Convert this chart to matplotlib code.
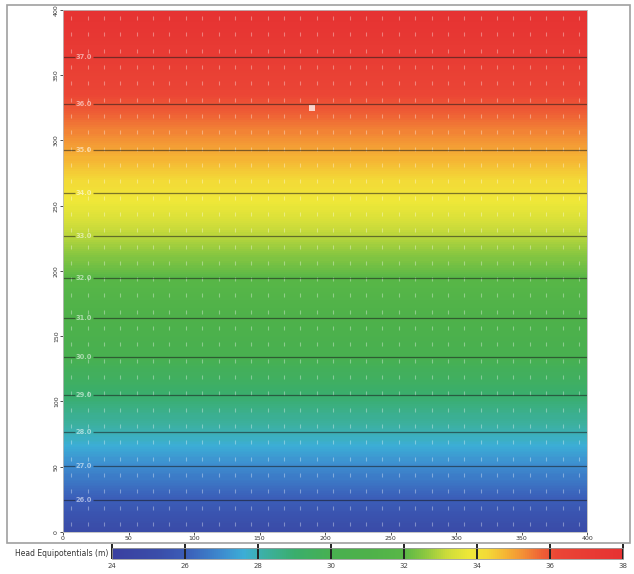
import numpy as np
import matplotlib.pyplot as plt
from matplotlib.colors import LinearSegmentedColormap, Normalize
from matplotlib.cm import ScalarMappable
from matplotlib.patches import Rectangle

# head profile (elevation in model units, head in m)
profile_y = [0, 24.5, 50.6, 76.6, 105.0, 134.1, 164.0, 194.6, 226.8, 259.8, 292.7, 328.0, 364.0, 400]
profile_head = [25.1, 26, 27, 28, 29, 30, 31, 32, 33, 34, 35, 36, 37, 38]
contour_levels = [26, 27, 28, 29, 30, 31, 32, 33, 34, 35, 36, 37]
x_extent = [0, 400]
x_ticks = [0, 50, 100, 150, 200, 250, 300, 350, 400]
y_ticks = [0, 50, 100, 150, 200, 250, 300, 350, 400]
cbar_ticks = [24, 26, 28, 30, 32, 34, 36, 38]
well_x, well_y = [190], [325]

# colour ramp of the head scale (head value, colour)
ramp = [(24, "#3a40a0"), (25.3, "#3a4eaa"), (26, "#3b5db8"), (27, "#3d8ccf"),
        (27.6, "#3caed6"), (28.1, "#3cb0a6"), (29, "#3aae6c"), (30, "#48b050"),
        (31, "#4eb14a"), (32, "#58b747"), (32.6, "#8cc840"), (33.2, "#cddc3a"),
        (33.8, "#efe838"), (34.3, "#f3da37"), (34.8, "#f5b534"), (35.3, "#f38e35"),
        (35.8, "#ee6035"), (36.2, "#eb4635"), (37, "#e83c34"), (38, "#e63232")]
cmap = LinearSegmentedColormap.from_list("head", [((h - 24) / 14, c) for h, c in ramp])
norm = Normalize(24, 38)

fig = plt.figure(figsize=(6.34, 5.74), dpi=100)
ax = fig.add_axes([0.0994, 0.0732, 0.8266, 0.9094])

X, Y = np.meshgrid(x_extent, profile_y)
Z = np.column_stack([profile_head, profile_head])
ax.contourf(X, Y, Z, levels=np.linspace(24, 38, 281), cmap=cmap, norm=norm)
cs = ax.contour(X, Y, Z, levels=contour_levels, colors="#1a1a1a", linewidths=0.9, alpha=0.55)
ax.clabel(cs, fmt="%.1f", fontsize=4.8, colors="white", inline=True, inline_spacing=2,
          manual=[(16, y) for y in profile_y[1:-1]])
for t in cs.labelTexts:
    t.set_fontweight("bold")

# flow vectors on the model grid (flow goes down the head gradient)
cell = 12.5
gx, gy = np.meshgrid(np.arange(cell / 2, 400, cell), np.arange(cell / 2, 400, cell))
ax.scatter(gx.ravel(), gy.ravel(), marker="|", s=12, color="white", alpha=0.35, linewidths=0.8)
ax.scatter(well_x, well_y, marker="s", s=14, color="white", alpha=0.75, linewidths=0)

ax.set_xlim(0, 400)
ax.set_ylim(0, 400)
ax.set_xticks(x_ticks)
ax.set_yticks(y_ticks)
ax.tick_params(labelsize=4.5, length=2, width=0.6, colors="#333333", pad=1)
for lab in ax.get_yticklabels():
    lab.set_rotation(90)
    lab.set_va("center")
for s in ax.spines.values():
    s.set_color("#bbbbbb")
    s.set_linewidth(0.6)

# colour bar
cax = fig.add_axes([0.1767, 0.0261, 0.806, 0.0192])
cb = fig.colorbar(ScalarMappable(norm=norm, cmap=cmap), cax=cax, orientation="horizontal")
cb.set_ticks(cbar_ticks)
cb.ax.tick_params(direction="in", length=11, width=1.4, color="#222222", labelsize=5,
                  labelcolor="#444444", pad=3)
cb.outline.set_edgecolor("#999999")
cb.outline.set_linewidth(0.6)
fig.text(0.171, 0.036, "Head Equipotentials (m)", ha="right", va="center", fontsize=5.5, color="#333333")

# outer frame
fig.patches.append(Rectangle((7 / 634, 1 - 543 / 574), 623 / 634, 538 / 574, transform=fig.transFigure,
                             fill=False, edgecolor="#a0a0a0", linewidth=1.2))

fig.savefig("out.png", dpi=100)
